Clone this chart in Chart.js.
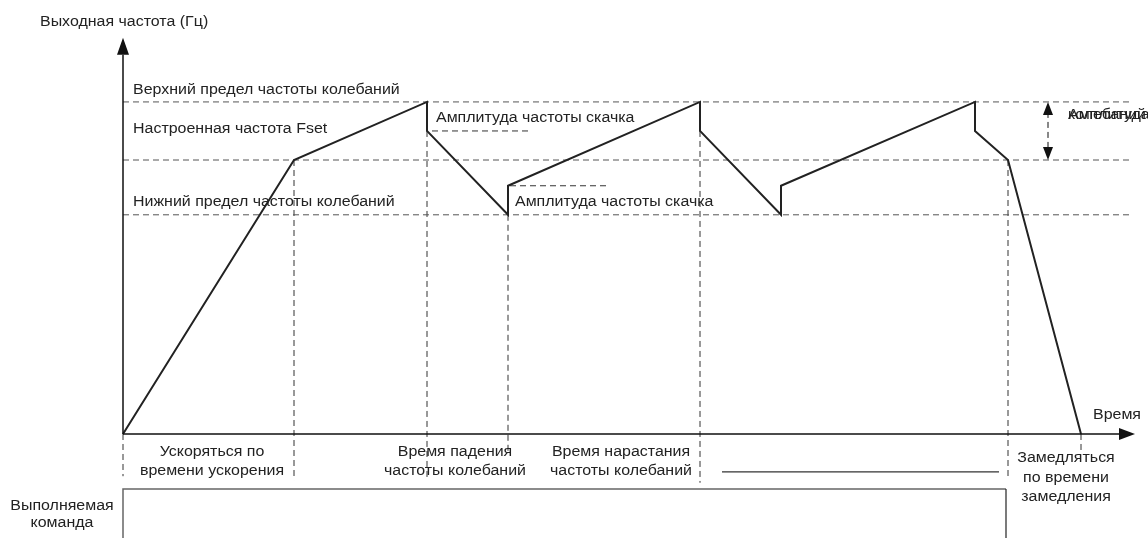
<!DOCTYPE html>
<html>
<head>
<meta charset="utf-8">
<script src="https://cdn.jsdelivr.net/npm/chart.js@4"></script>
<style>
  body { margin: 0; background: #fff; }
  #wrap { width: 1148px; height: 538px; position: relative; }
</style>
</head>
<body>
<div id="wrap"><canvas id="swingChart"></canvas></div>
<script>
// output frequency waveform (time in s, frequency in Hz)
const timeSec = [0, 17.1, 30.4, 30.4, 38.5, 38.5, 57.7, 57.7, 65.8, 65.8, 85.2, 85.2, 88.5, 95.8];
const outputHz = [0, 50, 60.6, 55.3, 40, 45.3, 60.6, 55.3, 40, 45.3, 60.6, 55.3, 50, 0];

// reference levels
const levelNames = ["Верхний предел частоты колебаний", "Настроенная частота Fset", "Нижний предел частоты колебаний"];
const levelHz = [60.6, 50, 40];

// event markers below the curve
const markerSec = [0, 17.1, 30.4, 38.5, 57.7, 88.5, 95.8];
const markerTopHz = [0, 50, 55.3, 40, 55.3, 50, 0];

// jump amplitude marks
const jumpSec = [30.4, 38.5];
const jumpHz = [55.3, 45.3];
const jumpLabel = "Амплитуда частоты скачка";

const axisTitleY = "Выходная частота (Гц)";
const axisTitleX = "Время";
const phaseLabels = [
  ["Ускоряться по", "времени ускорения"],
  ["Время падения", "частоты колебаний"],
  ["Время нарастания", "частоты колебаний"],
  ["Замедляться", "по времени", "замедления"]
];
const commandLabel = ["Выполняемая", "команда"];

const FONT = "14px 'Liberation Sans', Arial, sans-serif";
const STRETCH = 1.14; // reference glyphs are a bit wider than Arial
const INK = "#222";
const DASH = [6, 4];

// marker bottoms (in Hz units below the time axis)
const markerBottom = [-7.7, -8.4, -8.0, -3.8, -8.9, -7.85, -3.5];

const markerData = [];
markerSec.forEach((t, i) => {
  markerData.push({ x: t, y: markerTopHz[i] });
  markerData.push({ x: t, y: markerBottom[i] });
  markerData.push({ x: t, y: null });
});

const jumpData = [
  { x: jumpSec[0] + 0.5, y: jumpHz[0] }, { x: jumpSec[0] + 10.3, y: jumpHz[0] }, { x: jumpSec[0] + 10.3, y: null },
  { x: jumpSec[1] + 0.2, y: jumpHz[1] }, { x: jumpSec[1] + 9.9, y: jumpHz[1] }
];

const levelSets = levelHz.map(v => ({
  data: [{ x: 0, y: v }, { x: 101, y: v }],
  borderColor: "#555",
  borderWidth: 1,
  borderDash: DASH,
  pointRadius: 0
}));

function text(ctx, s, x, y, align) {
  const w = ctx.measureText(s).width * STRETCH;
  let left = x;
  if (align === "center") left = x - w / 2;
  ctx.save();
  ctx.translate(left, y);
  ctx.scale(STRETCH, 1);
  ctx.fillText(s, 0, 0);
  ctx.restore();
}

const decor = {
  id: "decor",
  afterDatasetsDraw(chart) {
    const ctx = chart.ctx;
    const xs = chart.scales.x, ys = chart.scales.y;
    const px = v => xs.getPixelForValue(v);
    const py = v => ys.getPixelForValue(v);

    ctx.save();
    ctx.strokeStyle = "#111";
    ctx.fillStyle = "#111";
    ctx.lineWidth = 1.5;

    // axes
    ctx.beginPath();
    ctx.moveTo(px(0), py(0)); ctx.lineTo(px(99.6), py(0));
    ctx.moveTo(px(0), py(0)); ctx.lineTo(px(0), py(69.2));
    ctx.stroke();
    ctx.beginPath();
    ctx.moveTo(px(0), py(72.3)); ctx.lineTo(px(0) - 6, py(69.2)); ctx.lineTo(px(0) + 6, py(69.2));
    ctx.closePath(); ctx.fill();
    ctx.beginPath();
    ctx.moveTo(px(101.2), py(0)); ctx.lineTo(px(99.6), py(0) - 6); ctx.lineTo(px(99.6), py(0) + 6);
    ctx.closePath(); ctx.fill();

    // swing amplitude double arrow
    const ax = px(92.5), aTop = py(levelHz[0]), aBot = py(levelHz[1]);
    ctx.lineWidth = 1;
    ctx.setLineDash(DASH);
    ctx.beginPath(); ctx.moveTo(ax, aTop + 10); ctx.lineTo(ax, aBot - 10); ctx.stroke();
    ctx.setLineDash([]);
    ctx.beginPath(); ctx.moveTo(ax, aTop); ctx.lineTo(ax - 5, aTop + 13); ctx.lineTo(ax + 5, aTop + 13); ctx.closePath(); ctx.fill();
    ctx.beginPath(); ctx.moveTo(ax, aBot); ctx.lineTo(ax - 5, aBot - 13); ctx.lineTo(ax + 5, aBot - 13); ctx.closePath(); ctx.fill();

    // solid line after the rise phase
    ctx.strokeStyle = "#333";
    ctx.lineWidth = 1.2;
    ctx.beginPath(); ctx.moveTo(px(59.9), py(-6.93)); ctx.lineTo(px(87.6), py(-6.93)); ctx.stroke();

    // command bar
    ctx.strokeStyle = "#666";
    ctx.lineWidth = 1.5;
    ctx.beginPath();
    ctx.moveTo(px(0), chart.height); ctx.lineTo(px(0), py(-10.04));
    ctx.lineTo(px(88.3), py(-10.04));
    ctx.stroke();
    ctx.strokeStyle = "#222";
    ctx.lineWidth = 1.2;
    ctx.beginPath(); ctx.moveTo(px(88.3), py(-10.04)); ctx.lineTo(px(88.3), chart.height); ctx.stroke();

    // texts
    ctx.fillStyle = INK;
    ctx.font = FONT;
    ctx.textBaseline = "middle";
    ctx.textAlign = "left";
    text(ctx, axisTitleY, px(-8.3), py(75.2));
    text(ctx, levelNames[0], px(1), py(62.77));
    text(ctx, levelNames[1], px(1), py(55.66));
    text(ctx, levelNames[2], px(1), py(42.34));
    text(ctx, jumpLabel, px(31.3), py(57.66));
    text(ctx, jumpLabel, px(39.2), py(42.34));
    text(ctx, "Амплитуда", px(94.5), py(58.2));
    text(ctx, "колебаний", px(94.5), py(58.2));

    text(ctx, axisTitleX, px(99.4), py(3.47), "center");
    const phaseX = [8.9, 33.2, 49.8, 94.3];
    const phaseY = [[-3.28, -6.75], [-3.28, -6.75], [-3.28, -6.75], [-4.38, -8.03, -11.5]];
    phaseLabels.forEach((lines, i) => {
      lines.forEach((s, j) => text(ctx, s, px(phaseX[i]), py(phaseY[i][j]), "center"));
    });
    text(ctx, commandLabel[0], px(-6.1), py(-13.14), "center");
    text(ctx, commandLabel[1], px(-6.1), py(-16.24), "center");
    ctx.restore();
  }
};

new Chart(document.getElementById("swingChart"), {
  type: "line",
  data: {
    datasets: [
      {
        data: timeSec.map((t, i) => ({ x: t, y: outputHz[i] })),
        borderColor: INK,
        borderWidth: 2,
        pointRadius: 0,
        tension: 0
      },
      ...levelSets,
      {
        data: markerData,
        borderColor: "#333",
        borderWidth: 1,
        borderDash: DASH,
        pointRadius: 0,
        spanGaps: false
      },
      {
        data: jumpData,
        borderColor: "#333",
        borderWidth: 1,
        borderDash: DASH,
        pointRadius: 0,
        spanGaps: false
      }
    ]
  },
  options: {
    responsive: true,
    maintainAspectRatio: false,
    animation: false,
    layout: { padding: 0 },
    plugins: {
      legend: { display: false },
      tooltip: { enabled: false }
    },
    scales: {
      x: { type: "linear", min: -12.3, max: 102.5, display: false },
      y: { type: "linear", min: -18.98, max: 79.2, display: false }
    }
  },
  plugins: [decor]
});
</script>
</body>
</html>
